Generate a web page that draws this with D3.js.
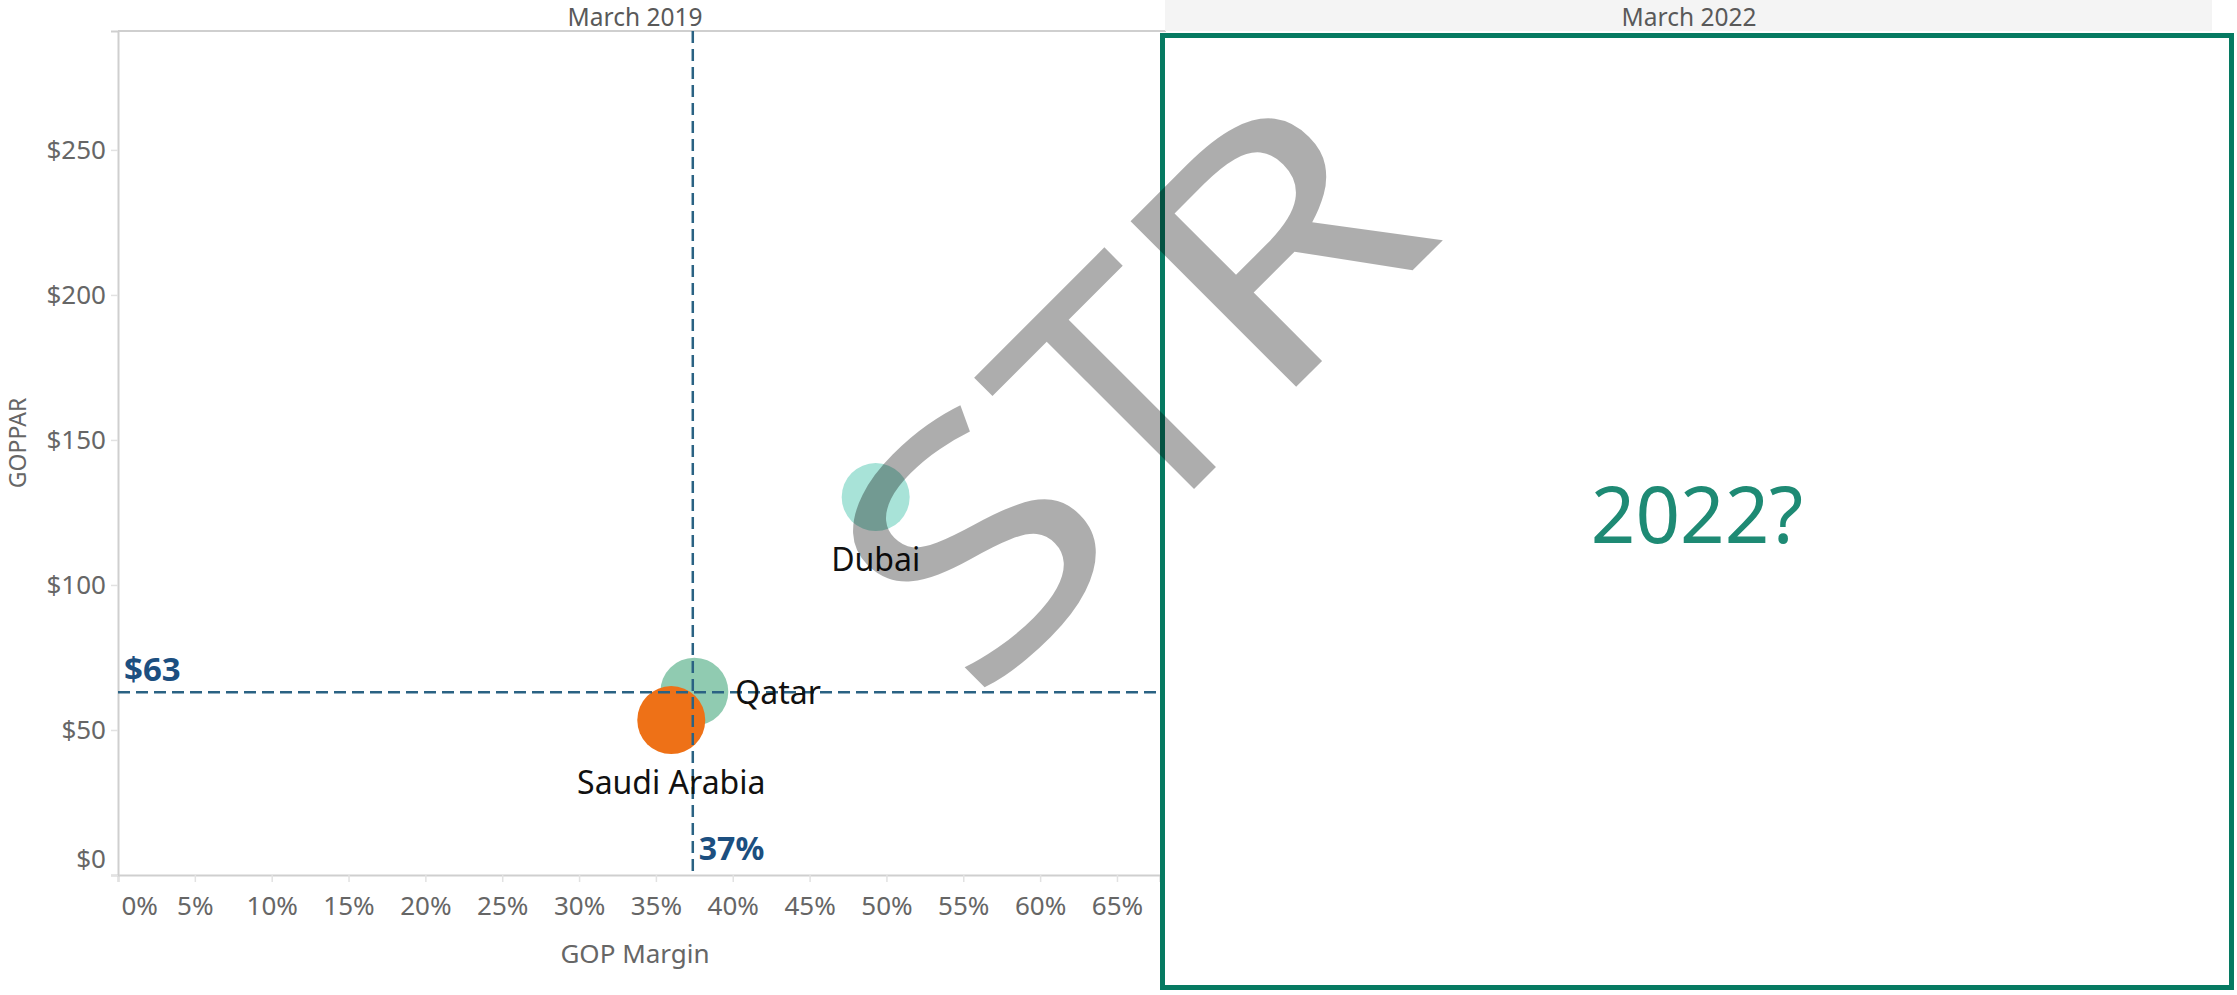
<!DOCTYPE html>
<html>
<head>
<meta charset="utf-8">
<script src="https://cdn.jsdelivr.net/npm/d3@7"></script>
<style>
    body { margin: 0; background: #fff; }
    text { font-family: "Noto Sans", "Open Sans", sans-serif; }
</style>
</head>
<body>
<div id="chart-container"></div>
<script>
// scatter of GOP margin vs GOPPAR, march 2019 pane + the empty 2022 box
const svgWidth = 2237;
const svgHeight = 995;
const margin = { top: 31, right: 1077, bottom: 120, left: 118 };
const width = svgWidth - margin.left - margin.right;
const height = svgHeight - margin.top - margin.bottom;

// data
const countries = ["Dubai", "Qatar", "Saudi Arabia"];
const gopMargin = [49.3, 37.5, 36.0];
const goppar = [130.3, 63.2, 53.4];
const refMargin = 37.4;
const refGoppar = 63;
const refLabels = ["37%", "$63"];
const xTicks = [0, 5, 10, 15, 20, 25, 30, 35, 40, 45, 50, 55, 60, 65];
const yTicks = [0, 50, 100, 150, 200, 250];
const paneTitles = ["March 2019", "March 2022"];

const colors = d3.scaleOrdinal()
    .domain(countries)
    .range(["#a8e3d8", "#90cbb1", "#ee7117"]);

const data = countries.map((c, i) => ({ name: c, margin: gopMargin[i], goppar: goppar[i] }));

const root = d3.select("#chart-container")
    .append("svg")
    .attr("width", svgWidth)
    .attr("height", svgHeight);

const svg = root.append("g")
    .attr("transform", `translate(${margin.left},${margin.top})`);

const x = d3.scaleLinear()
    .domain([0, 67.8])
    .range([0, width]);

const y = d3.scaleLinear()
    .domain([0, 291])
    .range([height, 0]);

// grey header of the second pane
root.append("rect")
    .attr("x", 1165)
    .attr("y", 0)
    .attr("width", 1047)
    .attr("height", margin.top)
    .attr("fill", "#f4f4f4");

root.selectAll(".paneTitle")
    .data(paneTitles)
    .enter()
    .append("text")
    .attr("class", "paneTitle")
    .attr("x", (d, i) => i == 0 ? margin.left + width / 2 - 4 : 1689)
    .attr("y", 26)
    .attr("text-anchor", "middle")
    .attr("font-size", 24.5)
    .attr("fill", "#595959")
    .text(d => d);

// top border of the plot
svg.append("line")
    .attr("x1", 0)
    .attr("x2", width + 6)
    .attr("y1", 0)
    .attr("y2", 0)
    .attr("stroke", "#cfcfcf")
    .attr("stroke-width", 2);

// axes
const xAxis = svg.append("g")
    .attr("class", "axis axis-x")
    .attr("transform", `translate(0, ${height})`)
    .call(d3.axisBottom(x).tickValues(xTicks).tickSize(7).tickFormat(d => d + "%"));

xAxis.select(".domain").attr("stroke", "#cfcfcf").attr("stroke-width", 2);
xAxis.selectAll(".tick line").attr("stroke", "#e2e2e2").attr("stroke-width", 1.5);
xAxis.selectAll(".tick text")
    .attr("y", 40)
    .attr("dy", null)
    .attr("font-size", 26)
    .attr("font-family", "Noto Sans, sans-serif")
    .attr("fill", "#666");
// first label is pushed inside like tableau does
xAxis.selectAll(".tick text").filter(d => d == 0)
    .attr("text-anchor", "start")
    .attr("x", 3);

const yAxis = svg.append("g")
    .attr("class", "axis axis-y")
    .call(d3.axisLeft(y).tickValues(yTicks).tickSize(7).tickFormat(d => "$" + d));

yAxis.select(".domain").attr("stroke", "#cfcfcf").attr("stroke-width", 2);
yAxis.selectAll(".tick line").attr("stroke", "#e2e2e2").attr("stroke-width", 1.5);
yAxis.selectAll(".tick text")
    .attr("x", -12)
    .attr("font-size", 26)
    .attr("font-family", "Noto Sans, sans-serif")
    .attr("fill", "#666");
yAxis.selectAll(".tick text").filter(d => d == 0)
    .attr("dy", null)
    .attr("y", -8);

// axis titles
svg.append("text")
    .text("GOP Margin")
    .attr("x", width / 2 - 4)
    .attr("y", height + 88)
    .attr("text-anchor", "middle")
    .attr("font-size", 26)
    .attr("fill", "#666");

root.append("text")
    .text("GOPPAR")
    .attr("transform", "translate(26, 443) rotate(-90)")
    .attr("text-anchor", "middle")
    .attr("font-size", 23)
    .attr("fill", "#666");

// bubbles
svg.selectAll(".bubble")
    .data(data)
    .enter()
    .append("circle")
    .attr("class", "bubble")
    .attr("cx", d => x(d.margin))
    .attr("cy", d => y(d.goppar))
    .attr("r", 34)
    .attr("fill", d => colors(d.name));

// reference lines on top of the bubbles
svg.append("line")
    .attr("x1", x(refMargin))
    .attr("x2", x(refMargin))
    .attr("y1", 0)
    .attr("y2", height)
    .attr("stroke", "#2a6283")
    .attr("stroke-width", 2.5)
    .attr("stroke-dasharray", "12,6");

svg.append("line")
    .attr("x1", 0)
    .attr("x2", width)
    .attr("y1", y(refGoppar))
    .attr("y2", y(refGoppar))
    .attr("stroke", "#2a6283")
    .attr("stroke-width", 2.5)
    .attr("stroke-dasharray", "12,6");

svg.append("text")
    .text(refLabels[0])
    .attr("x", x(refMargin) + 6)
    .attr("y", height - 15)
    .attr("font-size", 32)
    .attr("font-weight", "bold")
    .attr("fill", "#1c4f80");

svg.append("text")
    .text(refLabels[1])
    .attr("x", 6)
    .attr("y", y(refGoppar) - 11)
    .attr("font-size", 33)
    .attr("font-weight", "bold")
    .attr("fill", "#1c4f80");

// bubble labels, qatar sits to the right, the others below
svg.selectAll(".barLabel")
    .data(data)
    .enter()
    .append("text")
    .attr("class", "barLabel")
    .text(d => d.name)
    .attr("x", d => d.name == "Qatar" ? x(d.margin) + 41 : x(d.margin))
    .attr("y", d => d.name == "Qatar" ? y(d.goppar) + 12 : y(d.goppar) + 74)
    .attr("text-anchor", d => d.name == "Qatar" ? "start" : "middle")
    .attr("font-size", 32)
    .attr("fill", "#111");

// the 2022 box
root.append("rect")
    .attr("x", 1162.5)
    .attr("y", 35.5)
    .attr("width", 1069)
    .attr("height", 952)
    .attr("fill", "#fff")
    .attr("stroke", "#067a62")
    .attr("stroke-width", 5);

root.append("text")
    .text("2022?")
    .attr("x", 1697)
    .attr("y", 543)
    .attr("text-anchor", "middle")
    .attr("font-size", 78)
    .attr("fill", "#1e8a74");

// STR watermark over everything, letters placed one by one since
// the original font is wider than what we have here
const mark = root.append("g")
    .attr("transform", "translate(1205, 478) rotate(-45)");

mark.selectAll("text")
    .data([["S", -210, 1.28], ["T", 0, 1.05], ["R", 216, 1.24]])
    .enter()
    .append("text")
    .attr("transform", d => `translate(${d[1]}, 0) scale(${d[2]}, 1)`)
    .attr("text-anchor", "middle")
    .attr("font-size", 328)
    .attr("fill", "#000")
    .attr("fill-opacity", 0.32)
    .text(d => d[0]);
</script>
</body>
</html>
